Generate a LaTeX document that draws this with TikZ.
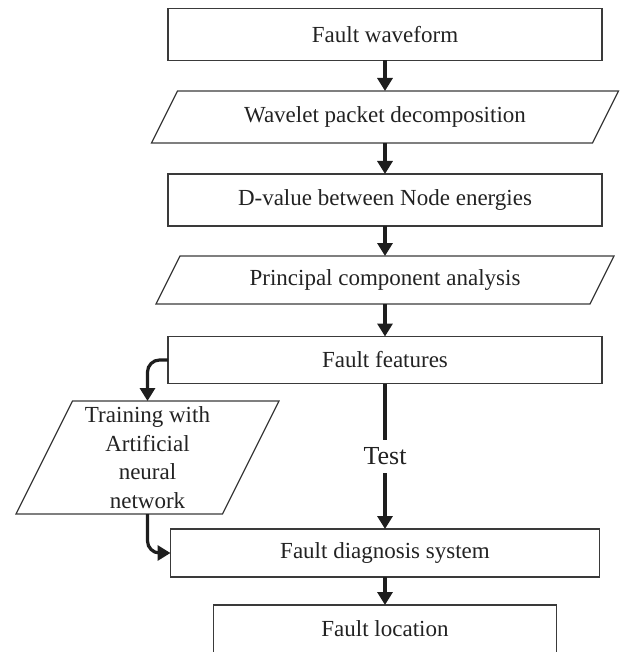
\documentclass[tikz,border=0pt]{standalone}
\usepackage{fontspec}
\setmainfont{Liberation Serif}
\usetikzlibrary{arrows.meta}
\definecolor{boxc}{HTML}{3A3A3A}
\definecolor{arrowc}{HTML}{1E1E1E}
\definecolor{textc}{HTML}{222222}
\begin{document}
\begin{tikzpicture}[x=1pt,y=-1pt,
  base/.style={inner sep=0pt, outer sep=0pt, text=textc, font=\fontsize{23}{28.5}\selectfont, align=center},
  rbox/.style={base, draw=boxc, line width=1.2pt, minimum width=#1, minimum height=52pt},
  rbox/.default=434pt,
  pbox/.style={base, minimum width=#1},
  outline/.style={draw=boxc, line width=1.2pt, line join=miter},
  link/.style={draw=arrowc, line width=3.2pt},
  conn/.style={link, -{Triangle[length=13pt,width=15pt]}}
]
\useasboundingbox (0,0) rectangle (621,652);
\clip (0,0) rectangle (621,652);

\node[rbox] (fw) at (385,34.5) {Fault waveform};
\node[pbox=467pt, minimum height=52pt] (wp) at (385,117) {Wavelet packet decomposition};
\node[rbox] (dv) at (385,200) {D-value between Node energies};
\node[pbox=458pt, minimum height=48pt] (pca) at (385,280) {Principal component analysis};
\node[rbox, minimum height=47pt] (ff) at (385,360) {Fault features};
\node[pbox=263pt, minimum height=113pt] (ann) at (147.5,457.5) {Training with\\Artificial\\neural\\network};
\node[rbox=429pt, minimum height=48pt] (diag) at (385,553) {Fault diagnosis system};
\node[rbox=343pt, minimum height=60pt, text height=17pt, text depth=15pt] (loc) at (385,635) {Fault location};
\node[base, inner sep=8pt, font=\fontsize{26}{30}\selectfont] (test) at (385,456.5) {Test};

\foreach \n/\s in {wp/26pt, pca/24pt, ann/56.5pt}
  \draw[outline] ([xshift=\s]\n.north west) -- (\n.north east)
     -- ([xshift=-\s]\n.south east) -- (\n.south west) -- cycle;

\draw[conn] (fw) -- (wp);
\draw[conn] (wp) -- (dv);
\draw[conn] (dv) -- (pca);
\draw[conn] (pca) -- (ff);
\draw[link] (ff) -- (test);
\draw[conn] (test) -- (diag);
\draw[conn] (diag) -- (loc);
\draw[conn, rounded corners=12pt] (ff.west) -| (ann.north);
\draw[conn, rounded corners=12pt] (ann.south) |- (diag.west);
\end{tikzpicture}
\end{document}
